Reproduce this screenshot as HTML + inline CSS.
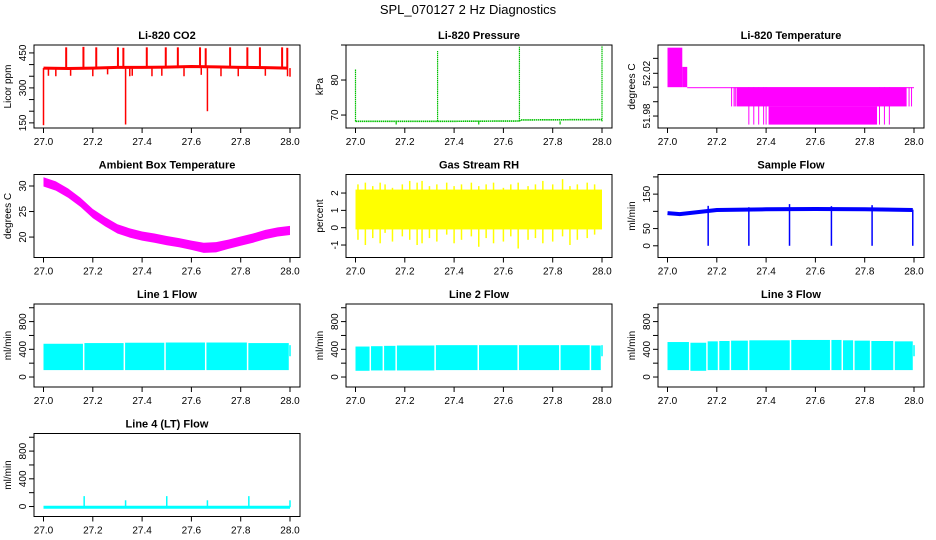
<!DOCTYPE html>
<html><head><meta charset="utf-8"><style>
html,body{margin:0;padding:0;background:#fff}
svg{display:block;font-family:"Liberation Sans",Arial,sans-serif}
</style></head><body>
<svg id="root" width="936" height="540" viewBox="0 0 936 540" xmlns="http://www.w3.org/2000/svg">
<rect x="0" y="0" width="936" height="540" fill="#fff"/>
<text x="468" y="14" text-anchor="middle" font-size="13">SPL_070127  2 Hz Diagnostics</text>
</svg>
<script>
const xTicks = [27.0,27.2,27.4,27.6,27.8,28.0];
const xTickLabels = ["27.0","27.2","27.4","27.6","27.8","28.0"];

// CO2
const co2BaseX = [27.0,27.1,27.2,27.3,27.4,27.5,27.6,27.7,27.8,27.9,27.99];
const co2BaseV = [385,383,385,388,388,389,392,390,388,387,385];
const co2SpikeX = [27.092,27.162,27.214,27.302,27.324,27.419,27.496,27.545,27.635,27.658,27.757,27.827,27.878,27.968,27.989];
const co2SpikeV = [474,476,474,474,472,474,474,474,474,470,474,474,474,474,472];
const co2DipX = [27.02,27.05,27.11,27.2,27.26,27.35,27.36,27.44,27.48,27.57,27.64,27.72,27.79,27.9,27.99,28.0];
const co2DipV = [352,350,352,350,358,350,352,350,352,350,356,350,350,352,350,348];
const co2DeepX = [27.0,27.333,27.665];
const co2DeepV = [140,143,200];
const co2Ticks = [150,200,250,300,350,400,450];
const co2Labels = ["150","","","300","","","450"];

// Pressure
const presBaseX = [27.0,27.333,27.335,27.665,27.67,28.0];
const presBaseV = [68.2,68.2,68.2,68.3,68.6,68.7];
const presSpikeX = [27.0,27.333,27.665,28.0];
const presSpikeV = [83.2,88.3,89.5,89.8];
const presDipX = [27.165,27.5,27.83];
const presDipV = [67.3,67.3,67.3];
const presTicks = [70,80,90];
const presLabels = ["70","80",""];

// Li-820 temperature
const ltX0 = [27.0,27.06,27.08,27.28,27.41];
const ltX1 = [27.06,27.08,28.0,27.97,27.85];
const ltLo = [52.007,52.007,52.007,51.989,51.972];
const ltHi = [52.044,52.026,52.007,52.007,51.989];
const ltLineX = [27.26,27.27,27.275,27.98,27.99,27.33,27.35,27.37,27.39,27.4,27.86,27.88,27.9];
const ltLineLo = [51.989,51.989,51.989,51.989,51.989,51.972,51.972,51.972,51.972,51.972,51.972,51.972,51.972];
const ltTicks = [51.98,51.9934,52.007,52.02,52.034];
const ltLabels = ["51.98","","","52.02",""];

// Ambient box temperature
const ambX = [27.0,27.05,27.1,27.15,27.2,27.25,27.3,27.35,27.4,27.45,27.5,27.55,27.6,27.65,27.7,27.75,27.8,27.85,27.9,27.95,28.0];
const ambV = [30.8,30.0,28.6,26.8,24.6,23.0,21.6,20.8,20.2,19.8,19.3,18.9,18.4,17.9,18.0,18.6,19.2,19.8,20.5,21.0,21.3];
const ambHalf = [0.9,0.9,0.9,0.9,0.9,0.9,0.9,0.9,0.9,0.9,0.9,0.9,0.9,1.0,1.0,0.9,0.9,0.9,0.9,0.9,0.9];
const ambTicks = [20,25,30];
const ambLabels = ["20","25","30"];

// Gas stream RH
const rhBandLo = -0.1;
const rhBandHi = 2.2;
const rhSpikeX = [27.01,27.04,27.07,27.1,27.12,27.15,27.19,27.22,27.25,27.27,27.3,27.33,27.37,27.4,27.43,27.47,27.5,27.53,27.56,27.6,27.63,27.66,27.7,27.73,27.76,27.8,27.84,27.87,27.9,27.94,27.97];
const rhSpikeLo = [-0.7,-1.0,-0.6,-0.9,-0.3,-0.8,-0.5,-0.7,-1.0,-0.9,-0.6,-0.8,-0.4,-0.9,-0.7,-0.5,-1.1,-0.6,-0.9,-0.8,-0.5,-1.2,-0.7,-0.6,-0.9,-0.8,-0.5,-1.0,-0.7,-0.6,-0.4];
const rhSpikeHi = [2.5,2.6,2.4,2.6,2.5,2.3,2.5,2.7,2.6,2.7,2.4,2.5,2.6,2.4,2.5,2.6,2.4,2.5,2.6,2.3,2.5,2.6,2.4,2.5,2.7,2.5,2.8,2.4,2.5,2.6,2.5];
const rhTicks = [-1,0,1,2];
const rhLabels = ["-1","0","1","2"];

// Sample flow
const sfBaseX = [27.0,27.05,27.1,27.15,27.2,27.4,27.6,27.8,27.995];
const sfBaseV = [95,92,96,100,104,106,107,106,104];
const sfDipX = [27.165,27.33,27.495,27.665,27.83,27.995];
const sfDipV = [0,0,0,0,0,0];
const sfSpikeV = [116,112,121,115,118,105];
const sfTicks = [0,50,100,150,200];
const sfLabels = ["0","50","","150",""];

// Line flows
const flowTicks = [0,200,400,600,800,1000];
const flowLabels = ["0","","400","","800",""];
const l1GapX = [27.16,27.325,27.49,27.655,27.825];
const l1Lo = [100,100,100,100,100,100];
const l1Hi = [480,490,495,498,498,490];
const l2GapX = [27.057,27.11,27.162,27.32,27.495,27.657,27.826,27.95];
const l2Lo = [90,95,95,95,100,100,100,100,100];
const l2Hi = [440,445,450,455,460,460,460,460,455];
const l3GapX = [27.087,27.157,27.204,27.252,27.326,27.496,27.659,27.706,27.753,27.821,27.916];
const l3Lo = [100,90,100,100,100,100,100,100,100,100,100,100];
const l3Hi = [505,495,515,520,525,530,535,535,530,525,520,515];
const l4BaseV = -10;
const l4SpikeX = [27.165,27.333,27.5,27.665,27.833,28.0];
const l4SpikeV = [150,90,150,90,150,90];

const NS = "http://www.w3.org/2000/svg";
const root = document.getElementById('root');
function mk(parent, tag, attrs){
  const e = document.createElementNS(NS, tag);
  for (const k in attrs) e.setAttribute(k, attrs[k]);
  parent.appendChild(e);
  return e;
}

function panel(col,row,title,ylab,yMin,yMax,ticks,labels,name){
  const L = 34 + 312*col, R = L + 266;
  const T = 45 + 129.5*row, B = T + 83;
  const sx = v => L + 9.5 + (v-27.0)*246.5;
  const sy = v => B - (v-yMin)/(yMax-yMin)*(B-T);
  const g = mk(root,'g',{});
  
  
  const plot = mk(g,'g',{});
  
  
  const box = mk(g,'rect',{x:L,y:T,width:R-L,height:B-T,fill:'none',stroke:'#000','stroke-width':1});
  
  
  const t = mk(g,'text',{x:(L+R)/2,y:T-6,'text-anchor':'middle','font-size':11,'font-weight':'bold'});
  t.textContent = title;
  
  
  const yt = mk(g,'text',{x:0,y:0,'text-anchor':'middle','font-size':10,transform:`translate(${L-23},${(T+B)/2}) rotate(-90)`});
  yt.textContent = ylab;
  
  
  const xa = mk(g,'g',{});
  
  
  xTicks.forEach((v,i)=>{
    const x = sx(v);
    const tk = mk(xa,'line',{x1:x,x2:x,y1:B,y2:B+5,stroke:'#000'});
    
    
    const lb = mk(xa,'text',{x:x,y:B+17,'text-anchor':'middle','font-size':10});
    lb.textContent = xTickLabels[i];
    
    
  });
  const ya = mk(g,'g',{});
  
  
  ticks.forEach((v,i)=>{
    const y = sy(v);
    if (y < T-1 || y > B+1) return;
    const tk = mk(ya,'line',{x1:L-5,x2:L,y1:y,y2:y,stroke:'#000'});
    
    
    if (labels[i]) {
      const lb = mk(ya,'text',{x:0,y:0,'text-anchor':'middle','font-size':10,transform:`translate(${L-8},${y}) rotate(-90)`});
      lb.textContent = labels[i];
      
      
    }
  });
  return {plot,sx,sy,L,R,T,B};
}
function vline(p,x,y1,y2,color,w,name){
  const e = mk(p.plot,'line',{x1:p.sx(x),x2:p.sx(x),y1:p.sy(y1),y2:p.sy(y2),stroke:color,'stroke-width':w});
  
  
  return e;
}
function polyline(p,xs,vs,color,w,name,dash){
  const pts = xs.map((x,i)=>p.sx(x)+','+p.sy(vs[i])).join(' ');
  const e = mk(p.plot,'polyline',{points:pts,fill:'none',stroke:color,'stroke-width':w});
  if (dash) e.setAttribute('stroke-dasharray', dash);
  
  
  return e;
}
function band(p,x0,x1,lo,hi,color,name){
  const e = mk(p.plot,'rect',{x:p.sx(x0),y:p.sy(hi),width:Math.max(0.8,p.sx(x1)-p.sx(x0)),height:Math.max(1,p.sy(lo)-p.sy(hi)),fill:color});
  
  
  return e;
}

// CO2
{
  const p = panel(0,0,"Li-820 CO2","Licor ppm",128,484,co2Ticks,co2Labels,'co2');
  const c = '#ff0000';
  polyline(p,co2BaseX,co2BaseV,c,3,'co2-baseline');
  co2SpikeX.forEach((x,i)=>vline(p,x,co2BaseV[0],co2SpikeV[i],c,2,'co2-spike'));
  co2DipX.forEach((x,i)=>vline(p,x,co2BaseV[0],co2DipV[i],c,1.5,'co2-dip'));
  co2DeepX.forEach((x,i)=>vline(p,x,co2BaseV[0],co2DeepV[i],c,1.5,'co2-deep-dip'));
}
// Pressure
{
  const p = panel(1,0,"Li-820 Pressure","kPa",66.3,90,presTicks,presLabels,'pressure');
  const c = '#00c000';
  polyline(p,presBaseX,presBaseV,c,1.6,'pressure-line','1.5 0.6');
  presSpikeX.forEach((x,i)=>vline(p,x,presBaseV[0],presSpikeV[i],c,1.2,'pressure-spike').setAttribute('stroke-dasharray','1.5 0.6'));
  presDipX.forEach((x,i)=>vline(p,x,presBaseV[0],presDipV[i],c,1.2,'pressure-dip'));
}
// Li-820 temperature
{
  const p = panel(2,0,"Li-820 Temperature","degrees C",51.9688,52.0465,ltTicks,ltLabels,'li820-temp');
  const c = '#ff00ff';
  ltX0.forEach((x,i)=>band(p,x,ltX1[i],ltLo[i],ltHi[i],c,'temp-band'));
  ltLineX.forEach((x,i)=>vline(p,x,52.007,ltLineLo[i],c,1,'temp-level-line'));
}
// Ambient
{
  const p = panel(0,1,"Ambient Box Temperature","degrees C",16,32.25,ambTicks,ambLabels,'ambient-temp');
  const up = ambX.map((x,i)=>p.sx(x)+','+p.sy(ambV[i]+ambHalf[i]));
  const dn = ambX.map((x,i)=>p.sx(x)+','+p.sy(ambV[i]-ambHalf[i])).reverse();
  const e = mk(p.plot,'polygon',{points:up.concat(dn).join(' '),fill:'#ff00ff'});
  
  
}
// RH
{
  const p = panel(1,1,"Gas Stream RH","percent",-1.72,3.07,rhTicks,rhLabels,'rh');
  const c = '#ffff00';
  band(p,27.0,28.0,rhBandLo,rhBandHi,c,'rh-band');
  rhSpikeX.forEach((x,i)=>vline(p,x,rhSpikeLo[i],rhSpikeHi[i],c,1.5,'rh-spike'));
}
// Sample flow
{
  const p = panel(2,1,"Sample Flow","ml/min",-34,207,sfTicks,sfLabels,'sample-flow');
  const c = '#0000ff';
  polyline(p,sfBaseX,sfBaseV,c,4,'sample-flow-line');
  sfDipX.forEach((x,i)=>vline(p,x,sfSpikeV[i],sfDipV[i],c,1.5,'sample-flow-dip'));
}
// Line flows
function flowPanel(col,row,title,name,gaps,lo,hi){
  const p = panel(col,row,title,"ml/min",-144,1054,flowTicks,flowLabels,name);
  const c = '#00ffff';
  const edges = [27.0].concat(gaps).concat([27.995]);
  for (let i=0;i<edges.length-1;i++){
    const x0 = edges[i] + (i>0?0.006:0);
    band(p,x0,edges[i+1],lo[i],hi[i],c,name+'-segment');
  }
  vline(p,28.0,300,460,c,1.5,name+'-end');
  return p;
}
flowPanel(0,2,"Line 1 Flow",'line1-flow',l1GapX,l1Lo,l1Hi);
flowPanel(1,2,"Line 2 Flow",'line2-flow',l2GapX,l2Lo,l2Hi);
flowPanel(2,2,"Line 3 Flow",'line3-flow',l3GapX,l3Lo,l3Hi);
{
  const p = panel(0,3,"Line 4 (LT) Flow","ml/min",-144,1054,flowTicks,flowLabels,'line4-flow');
  const c = '#00ffff';
  polyline(p,[27.0,28.0],[l4BaseV,l4BaseV],c,3,'line4-baseline');
  l4SpikeX.forEach((x,i)=>vline(p,x,l4BaseV,l4SpikeV[i],c,1.5,'line4-spike'));
}
</script>
</body></html>
